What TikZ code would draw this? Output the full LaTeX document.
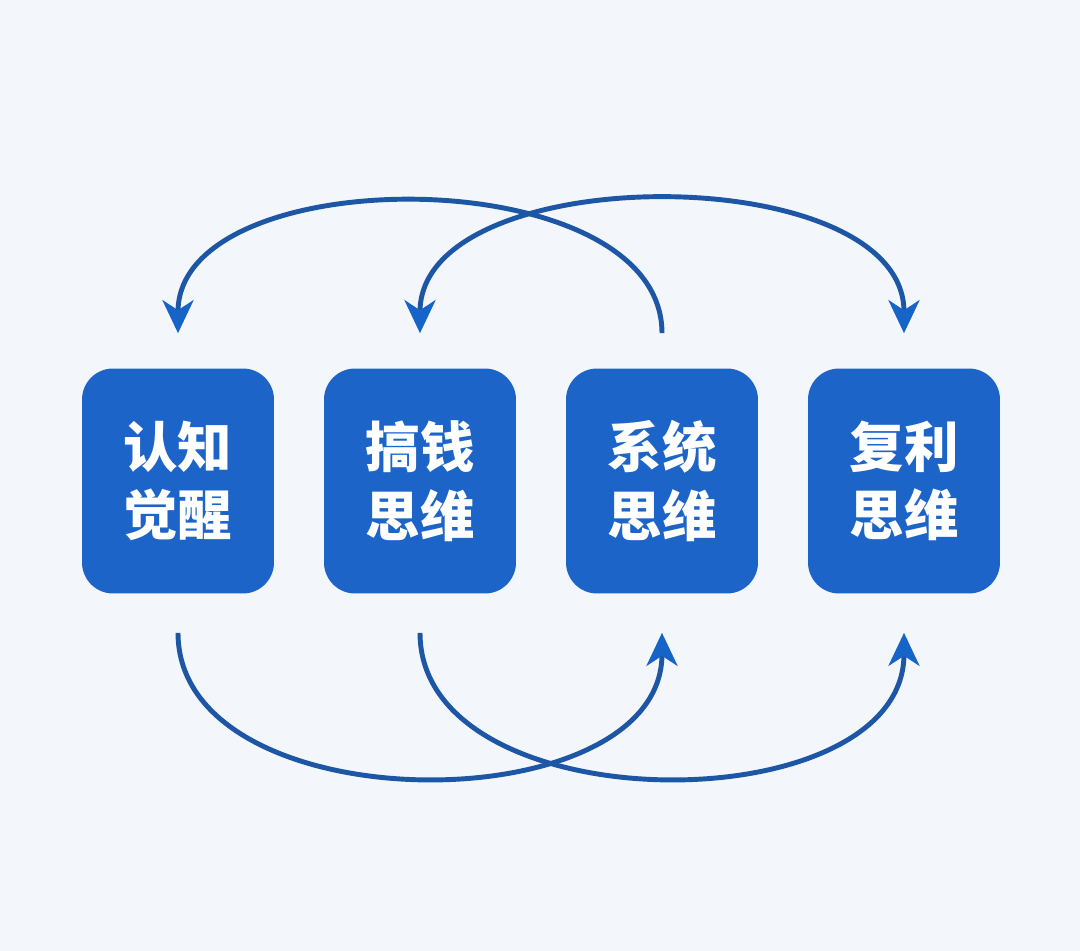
\documentclass[tikz,border=0pt]{standalone}
\usepackage{fontspec}
\newfontfamily\cjk{Noto Sans CJK SC}[BoldFont={Noto Sans CJK SC Black}]
\usepackage{tikz}
\usetikzlibrary{arrows.meta, positioning, calc}

\definecolor{bgcol}{RGB}{243,246,251}
\definecolor{boxblue}{RGB}{28,100,200}
\definecolor{linkblue}{RGB}{30,86,166}
\definecolor{tipblue}{RGB}{22,100,200}

\begin{document}
\begin{tikzpicture}[x=0.02cm, y=-0.02cm,
        stage/.style = {rectangle, fill=boxblue, rounded corners=0.62cm, minimum width=3.84cm, minimum height=4.5cm, inner sep=0pt,
                        align=center, text=white, font=\cjk\bfseries\fontsize{31}{39}\selectfont},
        link/.style  = {draw=linkblue, line width=2.8pt, -{Stealth[length=0.66cm, width=0.62cm, inset=0.2cm, color=tipblue]}},
        both/.style  = {link, {Stealth[length=0.66cm, width=0.62cm, inset=0.2cm, color=tipblue]}-{Stealth[length=0.66cm, width=0.62cm, inset=0.2cm, color=tipblue]}}
    ]

    % --- BACKGROUND ---
    \useasboundingbox[fill=bgcol] (0,0) rectangle (1080,951);

    % --- STAGES ---
    \node[stage] (cog)  at (178,481) {认知\\觉醒};
    \node[stage] (earn) at (420,481) {搞钱\\思维};
    \node[stage] (sys)  at (662,481) {系统\\思维};
    \node[stage] (comp) at (904,481) {复利\\思维};

    % anchor points of the loops
    \coordinate (cog-t)  at ([yshift=0.7cm]cog.north);
    \coordinate (earn-t) at ([yshift=0.7cm]earn.north);
    \coordinate (sys-t)  at ([yshift=0.7cm]sys.north);
    \coordinate (comp-t) at ([yshift=0.7cm]comp.north);
    \coordinate (cog-b)  at ([yshift=-0.78cm]cog.south);
    \coordinate (earn-b) at ([yshift=-0.78cm]earn.south);
    \coordinate (sys-b)  at ([yshift=-0.78cm]sys.south);
    \coordinate (comp-b) at ([yshift=-0.78cm]comp.south);

    % --- TOP LOOPS ---
    \draw[link] (sys-t) .. controls +(0,3.5cm) and +(0,3.5cm) .. (cog-t);
    \draw[both] (earn-t) .. controls +(0,3.5cm) and +(0,3.5cm) .. (comp-t);

    % --- BOTTOM LOOPS ---
    \draw[link] (cog-b) .. controls +(0,-3.85cm) and +(0,-3.85cm) .. (sys-b);
    \draw[link] (earn-b) .. controls +(0,-3.85cm) and +(0,-3.85cm) .. (comp-b);

\end{tikzpicture}
\end{document}
